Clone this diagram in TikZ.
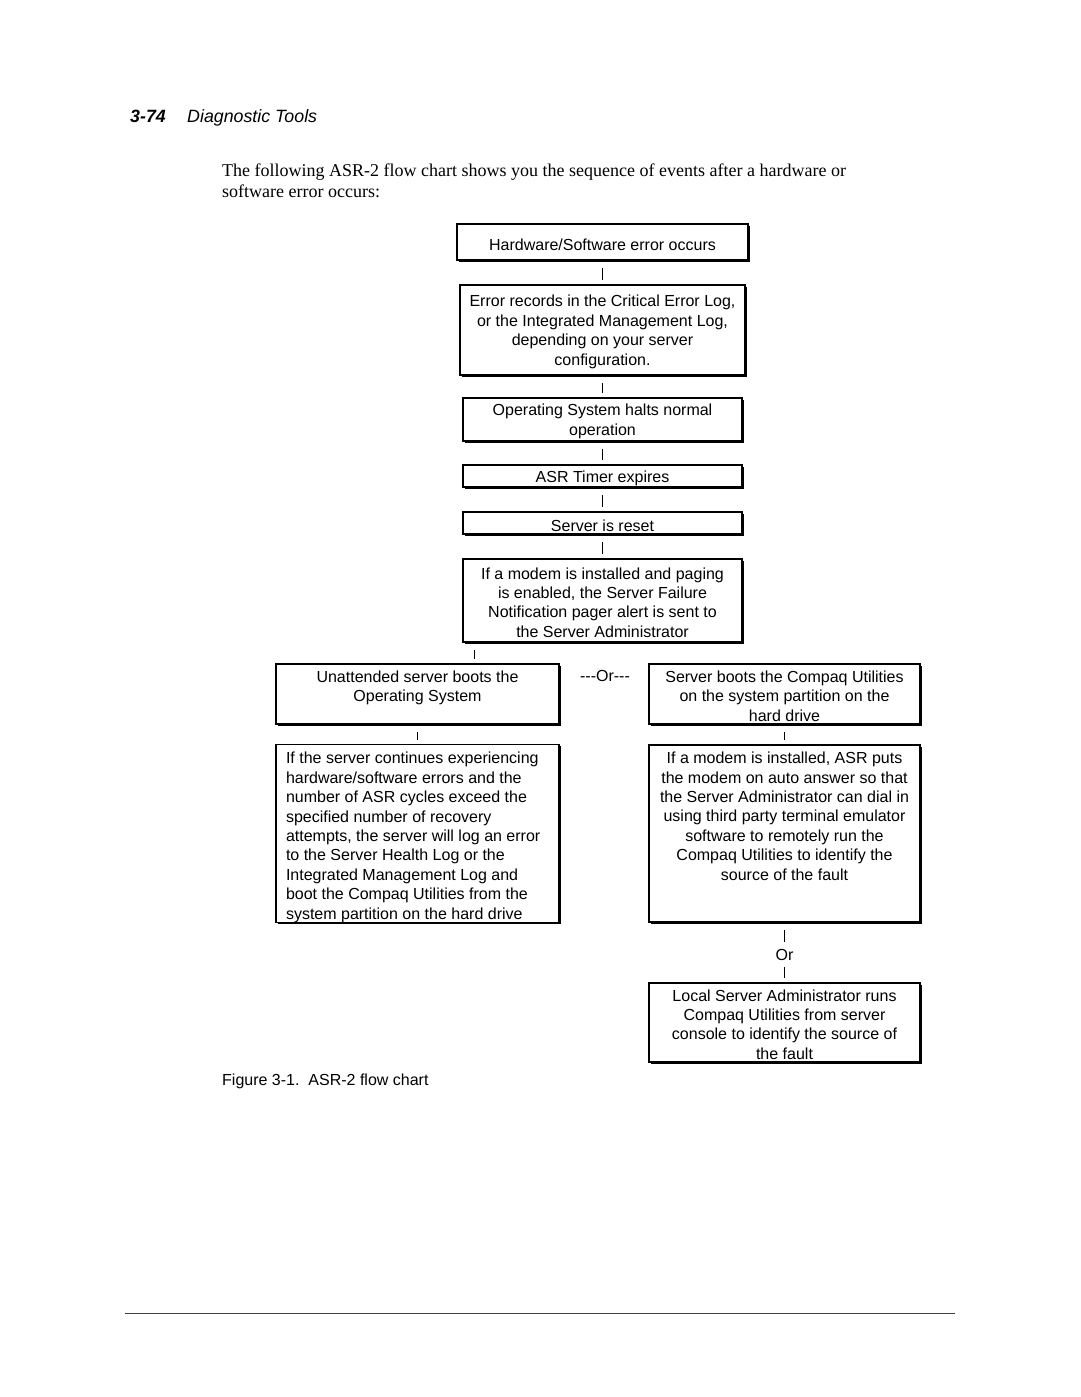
\documentclass[tikz,border=0pt]{standalone}
\usepackage{fontspec}
\setmainfont{Liberation Serif}
\newfontfamily\arialf{Liberation Sans}
\usetikzlibrary{shadows}
\begin{document}
\begin{tikzpicture}[x=1pt,y=-1pt,
  box/.style={draw, line width=1.1pt, fill=white, align=center, inner sep=0pt,
    font=\arialf\fontsize{16}{19.4}\selectfont,
    execute at begin node={\rule{0pt}{16.5pt}},
    drop shadow={shadow xshift=1.6pt, shadow yshift=-1.6pt, fill=black, opacity=1}},
  mbox/.style={draw, line width=1.1pt, fill=white, align=flush center, inner ysep=0pt,
    font=\arialf\fontsize{16}{19.4}\selectfont,
    inner xsep=5pt, text width=#1-10pt, minimum width=#1,
    execute at begin node={\rule{0pt}{15.5pt}},
    drop shadow={shadow xshift=1.6pt, shadow yshift=-1.6pt, fill=black, opacity=1}},
  conn/.style={line width=0.9pt, shorten <=7.5pt, shorten >=4pt},
  lbl/.style={font=\arialf\fontsize{16}{19.4}\selectfont, inner sep=0pt},
  body/.style={font=\fontsize{18}{21}\selectfont, inner sep=0pt, anchor=base west}]
\useasboundingbox (0,0) rectangle (1080,1397);

% header
\node[anchor=base west, inner sep=0pt, font=\arialf\fontsize{17.8}{21}\selectfont] (hnum) at (130,122) {\textbf{\textit{3-74}}};
\node[anchor=base west, inner sep=0pt, font=\arialf\fontsize{17.8}{21}\selectfont] (htitle) at (187,122) {\textit{Diagnostic Tools}};

% body text
\node[body] (p1) at (222,176) {The following ASR-2 flow chart shows you the sequence of events after a hardware or};
\node[body] (p2) at (222,197) {software error occurs:};

% boxes
\node[box, minimum width=291pt, minimum height=36pt] (b1) at (602.5,242) {Hardware/Software error occurs};
\node[mbox=285pt, minimum height=90pt] (b2) at (602.5,330) {Error records in the Critical Error Log,\\or the Integrated Management Log,\\depending on your server\\configuration.};
\node[mbox=279pt, minimum height=43pt] (b3) at (602.5,419.5) {Operating System halts normal\\operation};
\node[box, minimum width=279pt, minimum height=22pt] (b4) at (602.5,476) {ASR Timer expires};
\node[box, minimum width=279pt, minimum height=22pt] (b5) at (602.5,523) {Server is reset};
\node[mbox=279pt, minimum height=83pt] (b6) at (602.5,600.5) {If a modem is installed and paging\\is enabled, the Server Failure\\Notification pager alert is sent to\\the Server Administrator};

\node[mbox=283pt, minimum height=60pt] (b7) at (417.5,694) {Unattended server boots the\\Operating System\\\mbox{}};
\node[lbl] (or1) at (605,676) {\hbox{-}\hbox{-}\hbox{-}Or\hbox{-}\hbox{-}\hbox{-}};
\node[mbox=271pt, minimum height=60pt] (b8) at (784.5,694) {Server boots the Compaq Utilities\\on the system partition on the\\hard drive};

\node[mbox=283pt, minimum height=177pt, align=flush left, text width=263pt, inner xsep=10pt,
  execute at begin node={\rule{0pt}{19.5pt}}] (b9) at (417.5,833.5) {If the server continues experiencing\\hardware/software errors and the\\number of ASR cycles exceed the\\specified number of recovery\\attempts, the server will log an error\\to the Server Health Log or the\\Integrated Management Log and\\boot the Compaq Utilities from the\\system partition on the hard drive};
\node[mbox=271pt, minimum height=177pt] (b10) at (784.5,833.5) {If a modem is installed, ASR puts\\the modem on auto answer so that\\the Server Administrator can dial in\\using third party terminal emulator\\software to remotely run the\\Compaq Utilities to identify the\\source of the fault\\\mbox{}\\\mbox{}};

\node[lbl, inner ysep=6pt] (or2) at (784.5,955) {Or};
\node[mbox=271pt, minimum height=79pt] (b11) at (784.5,1022.5) {Local Server Administrator runs\\Compaq Utilities from server\\console to identify the source of\\the fault};

% connectors
\draw[conn] (b1.south) -- (b2.north);
\draw[conn] (b2.south) -- (b3.north);
\draw[conn] (b3.south) -- (b4.north);
\draw[conn] (b4.south) -- (b5.north);
\draw[conn] (b5.south) -- (b6.north);
\draw[conn] ([xshift=12pt]b6.south west) -- ([xshift=12pt]b6.south west |- b7.north);
\draw[conn] (b7.south) -- (b9.north);
\draw[conn] (b8.south) -- (b10.north);
\draw[conn, shorten >=1pt] (b10.south) -- (or2.north);
\draw[conn, shorten <=0pt] (or2.south) -- (b11.north);

% caption
\node[anchor=base west, inner sep=0pt, font=\arialf\fontsize{16}{19.4}\selectfont] (cap) at (222,1085) {Figure 3-1.\ \ ASR-2 flow chart};

% bottom rule
\draw[line width=1.6pt, black!75] (125,1313.5) -- (955,1313.5);
\end{tikzpicture}
\end{document}
